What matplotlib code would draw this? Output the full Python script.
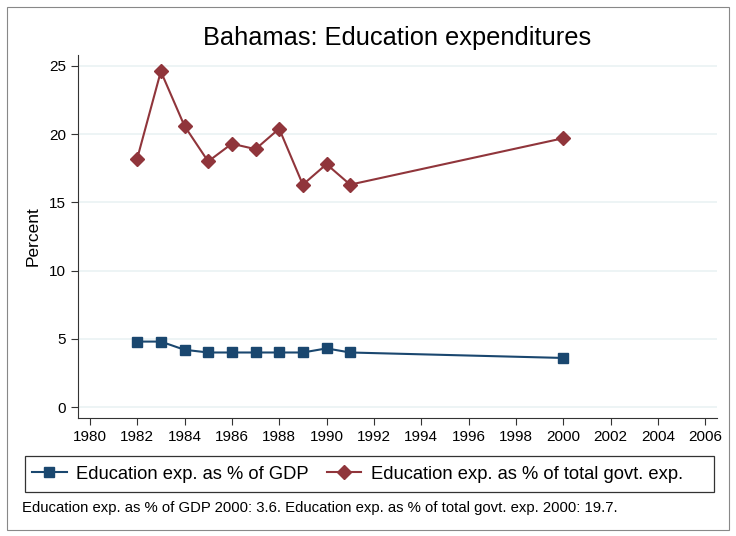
import matplotlib
matplotlib.use("Agg")
import matplotlib.pyplot as plt
from matplotlib.patches import Rectangle

plt.rcParams['font.family'] = ['Liberation Sans', 'DejaVu Sans']

# data
years = [1982, 1983, 1984, 1985, 1986, 1987, 1988, 1989, 1990, 1991, 2000]
gdp_share = [4.8, 4.8, 4.2, 4.0, 4.0, 4.0, 4.0, 4.0, 4.3, 4.0, 3.6]
govt_share = [18.2, 24.6, 20.6, 18.0, 19.3, 18.9, 20.4, 16.3, 17.8, 16.3, 19.7]
x_ticks = list(range(1980, 2007, 2))
y_ticks = [0, 5, 10, 15, 20, 25]

blue = '#1a476f'
red = '#90353b'

fig = plt.figure(figsize=(7.36, 5.36), dpi=100)
fig.patch.set_facecolor('white')
# outer frame
fig.add_artist(Rectangle((7 / 736, 1 - 530 / 536), 722 / 736, 523 / 536,
                         transform=fig.transFigure, fill=False,
                         edgecolor='#888888', linewidth=0.8))
# legend frame
fig.add_artist(Rectangle((25 / 736, 1 - 492 / 536), 689 / 736, 36 / 536,
                         transform=fig.transFigure, fill=False,
                         edgecolor='#333333', linewidth=0.9))

ax = fig.add_axes([78 / 736, 1 - 418 / 536, 639 / 736, 363 / 536])
ax.plot(years, gdp_share, color=blue, marker='s', markersize=7, linewidth=1.5,
        label='Education exp. as % of GDP')
ax.plot(years, govt_share, color=red, marker='D', markersize=7.5, linewidth=1.5,
        label='Education exp. as % of total govt. exp.')

ax.set_xlim(1979.5, 2006.5)
ax.set_ylim(-0.8, 25.8)
ax.set_xticks(x_ticks)
ax.set_yticks(y_ticks)
ax.tick_params(labelsize=11, length=5, color='#333333')
ax.yaxis.grid(True, color='#eaf2f3', linewidth=1.2)
ax.set_axisbelow(True)
for s in ['top', 'right']:
    ax.spines[s].set_visible(False)
for s in ['left', 'bottom']:
    ax.spines[s].set_color('#333333')
ax.set_ylabel('Percent', fontsize=12.5, labelpad=6)
ax.set_title('Bahamas: Education expenditures', fontsize=18.3, pad=7)

fig.legend(loc='center left', bbox_to_anchor=(28 / 736, 1 - 474 / 536),
           ncol=2, fontsize=13.2, frameon=False,
           handlelength=1.9, handletextpad=0.5, columnspacing=1.0,
           borderaxespad=0, borderpad=0.2)
fig.text(22 / 736, 1 - 508 / 536,
         'Education exp. as % of GDP 2000: 3.6. Education exp. as % of total govt. exp. 2000: 19.7.',
         fontsize=10.7, va='center', ha='left')

fig.savefig('out.png', dpi=100)
